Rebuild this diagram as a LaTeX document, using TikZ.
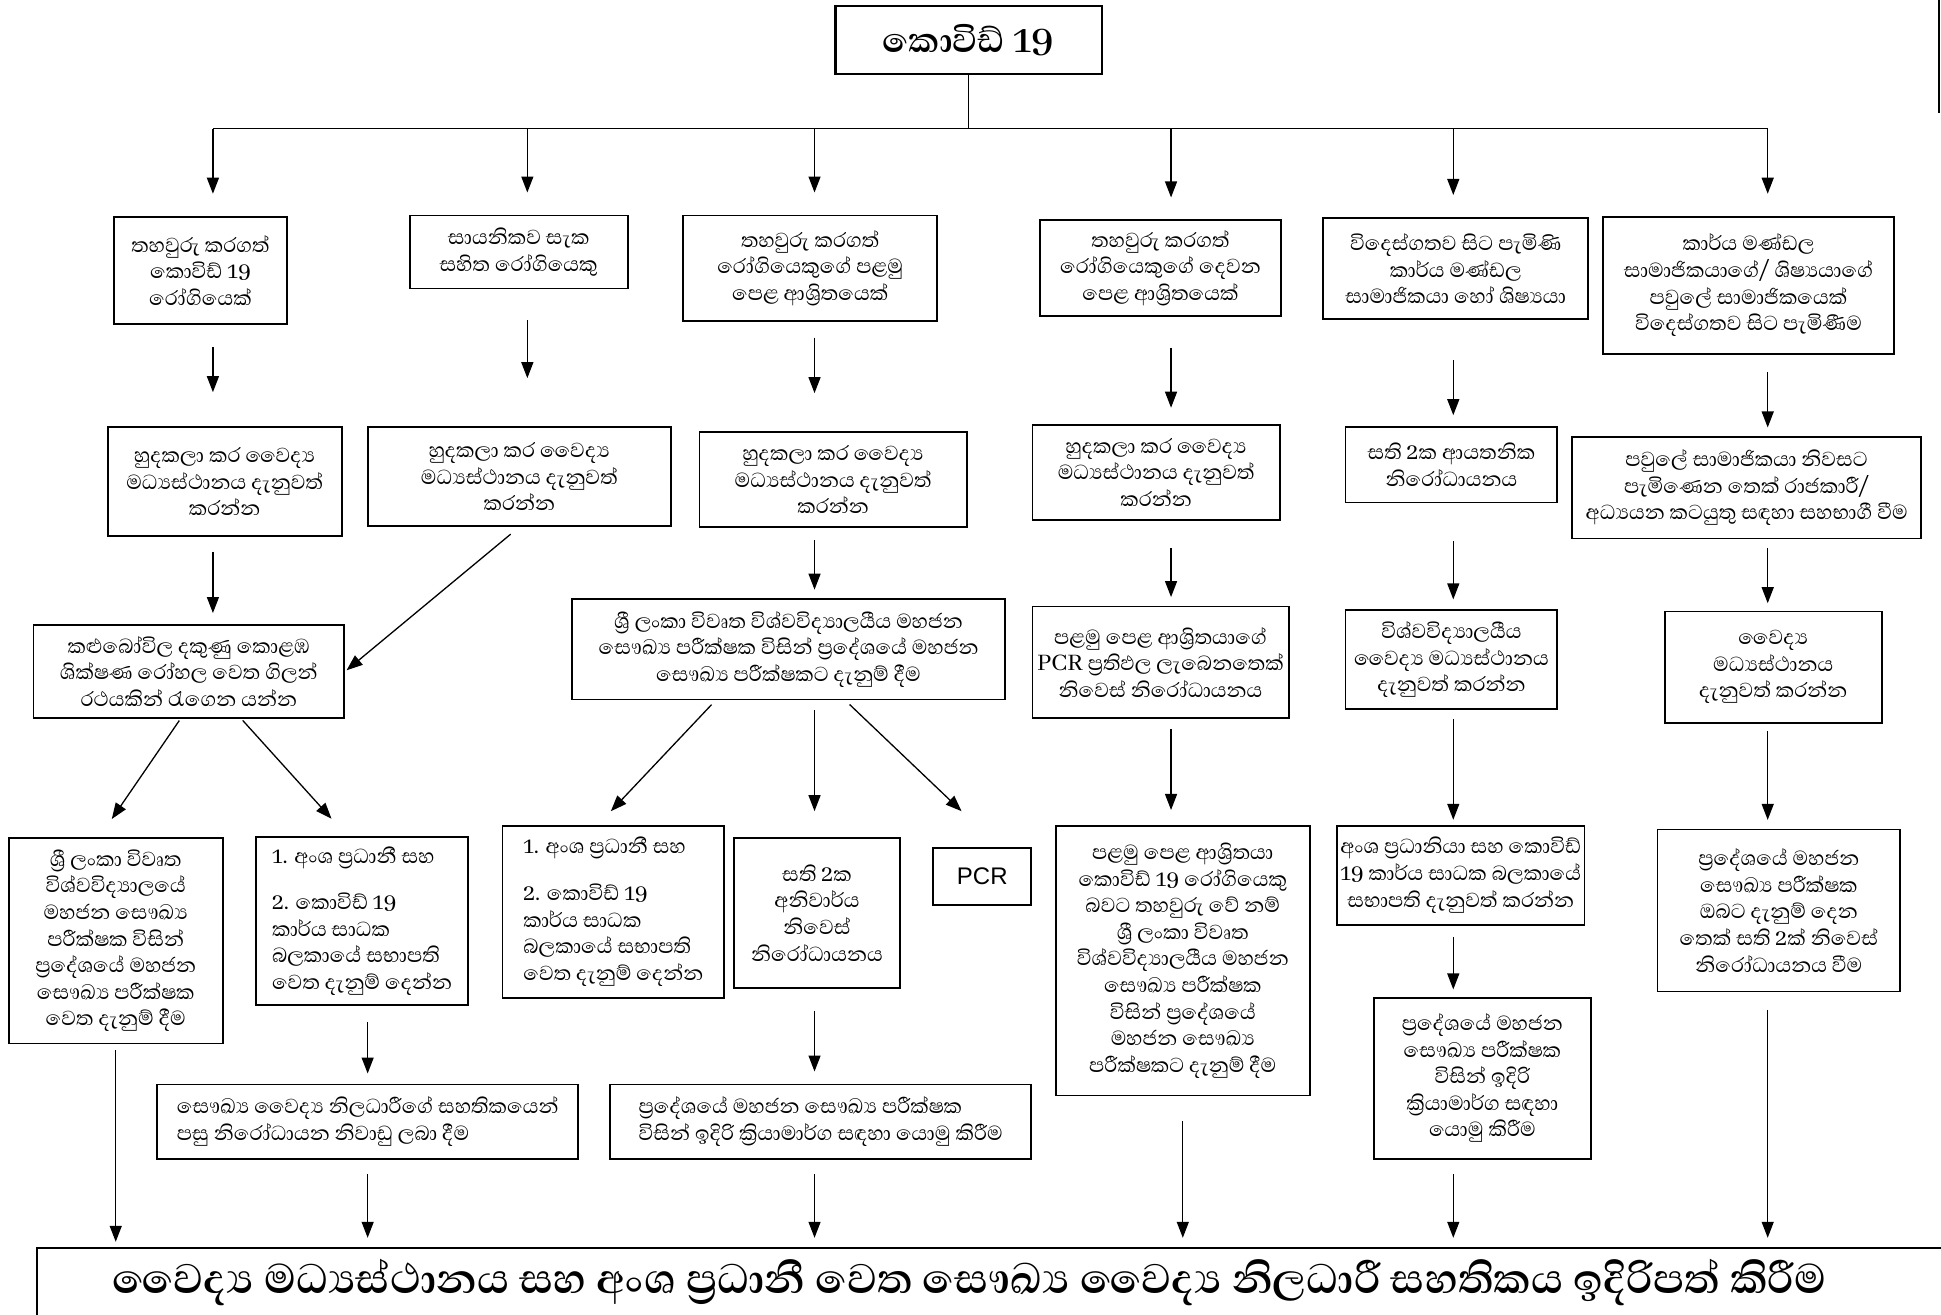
\documentclass[tikz,border=0pt]{standalone}
\usepackage{fontspec}
\newfontfamily\sinhala[Script=Sinhala]{Abhaya Libre}
\newfontfamily\pcrfont{Liberation Sans}
\usetikzlibrary{arrows.meta}

\begin{document}
\begin{tikzpicture}[x=0.619pt, y=-0.619pt, >={Triangle[length=8pt,width=6pt]},
  box/.style={draw, line width=0.9pt, align=center, inner sep=1pt,
    font=\sinhala\fontsize{13}{13.3}\selectfont},
  dims/.style 2 args={minimum width=#1*0.619pt, minimum height=#2*0.619pt},
  arr/.style={->, line width=0.65pt},
  gap/.style 2 args={shorten <=#1pt, shorten >=#2pt}]
  \useasboundingbox (0,0) rectangle (1568,1062);

  \node[box, dims={215}{55}, line width=1.1pt, font=\sinhala\bfseries\fontsize{22}{26}\selectfont] (T) at (782.5,32.5) {කොවිඩ් 19};

  \node[box, dims={140}{87}] (A1) at (162,218.5) {තහවුරු කරගත්\\කොවිඩ් 19\\රෝගියෙක්};
  \node[box, dims={176}{59}] (B1) at (419,203.5) {සායනිකව සැක\\සහිත රෝගියෙකු};
  \node[box, dims={205}{85}] (C1) at (654.5,216.5) {තහවුරු කරගත්\\රෝගියෙකුගේ පළමු\\පෙළ ආශ්‍රිතයෙක්};
  \node[box, dims={195}{77}] (D1) at (937.5,216.5) {තහවුරු කරගත්\\රෝගියෙකුගේ දෙවන\\පෙළ ආශ්‍රිතයෙක්};
  \node[box, dims={214}{82}] (E1) at (1176,217) {විදෙස්ගතව සිට පැමිණි\\කාර්ය මණ්ඩල\\සාමාජිකයා හෝ ශිෂ්‍යයා};
  \node[box, dims={235}{111}] (F1) at (1412.5,230.5) {කාර්ය මණ්ඩල\\සාමාජිකයාගේ/ ශිෂ්‍යයාගේ\\පවුලේ සාමාජිකයෙක්\\විදෙස්ගතව සිට පැමිණීම};

  \node[box, dims={189}{88}] (A2) at (181.5,389) {හුදකලා කර වෛද්‍ය\\මධ්‍යස්ථානය දැනුවත්\\කරන්න};
  \node[box, dims={245}{80}] (B2) at (419.5,385) {හුදකලා කර වෛද්‍ය\\මධ්‍යස්ථානය දැනුවත්\\කරන්න};
  \node[box, dims={216}{77}] (C2) at (673,387.5) {හුදකලා කර වෛද්‍ය\\මධ්‍යස්ථානය දැනුවත්\\කරන්න};
  \node[box, dims={200}{77}] (D2) at (934,381.5) {හුදකලා කර වෛද්‍ය\\මධ්‍යස්ථානය දැනුවත්\\කරන්න};
  \node[box, dims={171}{61}] (E2) at (1172.5,375.5) {සති 2ක ආයතනික\\නිරෝධායනය};
  \node[box, dims={282}{82}] (F2) at (1411,394) {පවුලේ සාමාජිකයා නිවසට\\පැමිණෙන තෙක් රාජකාරී/\\අධ්‍යයන කටයුතු සඳහා සහභාගී වීම};

  \node[box, dims={251}{75}] (A3) at (152.5,542.5) {කළුබෝවිල දකුණු කොළඹ\\ශික්ෂණ රෝහල වෙත ගිලන්\\රථයකින් රැගෙන යන්න};
  \node[box, dims={350}{81}] (C3) at (637,524.5) {ශ්‍රී ලංකා විවෘත විශ්වවිද්‍යාලයීය මහජන\\සෞඛ්‍ය පරීක්ෂක විසින් ප්‍රදේශයේ මහජන\\සෞඛ්‍ය පරීක්ෂකට දැනුම් දීම};
  \node[box, dims={207}{90}] (D3) at (937.5,535) {පළමු පෙළ ආශ්‍රිතයාගේ\\PCR ප්‍රතිඵල ලැබෙනතෙක්\\නිවෙස් නිරෝධායනය};
  \node[box, dims={171}{80}] (E3) at (1172.5,533) {විශ්වවිද්‍යාලයීය\\වෛද්‍ය මධ්‍යස්ථානය\\දැනුවත් කරන්න};
  \node[box, dims={175}{90}] (F3) at (1432.5,539) {වෛද්‍ය\\මධ්‍යස්ථානය\\දැනුවත් කරන්න};

  \node[box, dims={173}{166}] (A4a) at (93.5,760) {ශ්‍රී ලංකා විවෘත\\විශ්වවිද්‍යාලයේ\\මහජන සෞඛ්‍ය\\පරීක්ෂක විසින්\\ප්‍රදේශයේ මහජන\\සෞඛ්‍ය පරීක්ෂක\\වෙත දැනුම් දීම};
  \node[box, dims={171}{136}, align=left] (A4b) at (292.5,744) {1. අංශ ප්‍රධානී සහ\\[10pt]2. කොවිඩ් 19\\කාර්ය සාධක\\බලකායේ සභාපති\\වෙත දැනුම් දෙන්න};
  \node[box, dims={179}{139}, align=left] (C4a) at (495.5,736.5) {1. අංශ ප්‍රධානී සහ\\[10pt]2. කොවිඩ් 19\\කාර්ය සාධක\\බලකායේ සභාපති\\වෙත දැනුම් දෙන්න};
  \node[box, dims={134}{121}] (C4b) at (660,737.5) {සති 2ක\\අනිවාර්ය\\නිවෙස්\\නිරෝධායනය};
  \node[box, dims={79}{46}, font=\pcrfont\fontsize{12}{14}\selectfont] (C4c) at (793.5,708) {PCR};
  \node[box, dims={205}{218}] (D4) at (955.5,776) {පළමු පෙළ ආශ්‍රිතයා\\කොවිඩ් 19 රෝගියෙකු\\බවට තහවුරු වේ නම්\\ශ්‍රී ලංකා විවෘත\\විශ්වවිද්‍යාලයීය මහජන\\සෞඛ්‍ය පරීක්ෂක\\විසින් ප්‍රදේශයේ\\මහජන සෞඛ්‍ය\\පරීක්ෂකට දැනුම් දීම};
  \node[box, dims={200}{80}] (E4) at (1180,707) {අංශ ප්‍රධානියා සහ කොවිඩ්\\19 කාර්ය සාධක බලකායේ\\සභාපති දැනුවත් කරන්න};
  \node[box, dims={196}{131}] (F4) at (1437,735.5) {ප්‍රදේශයේ මහජන\\සෞඛ්‍ය පරීක්ෂක\\ඔබට දැනුම් දෙන\\තෙක් සති 2ක් නිවෙස්\\නිරෝධායනය වීම};

  \node[box, dims={340}{60}, align=left] (A5) at (297,906) {සෞඛ්‍ය වෛද්‍ය නිලධාරීගේ සහතිකයෙන්\\පසු නිරෝධායන නිවාඩු ලබා දීම};
  \node[box, dims={340}{60}, align=left] (C5) at (663,906) {ප්‍රදේශයේ මහජන සෞඛ්‍ය පරීක්ෂක\\විසින් ඉදිරි ක්‍රියාමාර්ග සඳහා යොමු කිරීම};
  \node[box, dims={175}{130}] (E5) at (1197.5,871) {ප්‍රදේශයේ මහජන\\සෞඛ්‍ය පරීක්ෂක\\විසින් ඉදිරි\\ක්‍රියාමාර්ග සඳහා\\යොමු කිරීම};

  \coordinate (botL) at (30,1008);
  \draw[line width=1.1pt] (30,1090) -- (botL) -- (1600,1008);
  \node[font=\sinhala\bfseries\fontsize{26.5}{30}\selectfont] (Bot) at (783,1036) {වෛද්‍ය මධ්‍යස්ථානය සහ අංශ ප්‍රධානී වෙත සෞඛ්‍ය වෛද්‍ය නිලධාරී සහතිකය ඉදිරිපත් කිරීම};

  \draw[line width=1pt] (1566,0) -- (1566,91);

  \coordinate (cA) at (172,104);
  \coordinate (cB) at (426,104);
  \coordinate (cC) at (658,104);
  \coordinate (cD) at (946,104);
  \coordinate (cE) at (1174,104);
  \coordinate (cF) at (1428,104);
  \draw[line width=0.65pt] (T.south) -- (T.south |- cA);
  \draw[line width=0.65pt] (cA) -- (cF);
  \foreach \c/\n in {cA/A1, cB/B1, cC/C1, cD/D1, cE/E1, cF/F1}
    \draw[arr, shorten >=11pt] (\c) -- (\c |- \n.north);

  \draw[arr, gap={11}{17}] (A1.south -| cA) -- (A2.north -| cA);
  \draw[arr, gap={15.5}{24}] (B1.south -| cB) -- (B2.north -| cB);
  \draw[arr, gap={8}{19}] (C1.south -| cC) -- (C2.north -| cC);
  \draw[arr, gap={15.5}{8}] (D1.south -| cD) -- (D2.north -| cD);
  \draw[arr, gap={20}{5.5}] (E1.south -| cE) -- (E2.north -| cE);
  \draw[arr, gap={8.7}{4.3}] (F1.south -| cF) -- (F2.north -| cF);

  \draw[arr, gap={7.4}{5.6}] (A2.south -| cA) -- (A3.north -| cA);
  \draw[arr, gap={5.6}{1}] (B2.south) -- (A3.east);
  \draw[arr, gap={6}{4.3}] (C2.south -| cC) -- (C3.north -| cC);
  \draw[arr, gap={13.6}{4.3}] (D2.south -| cD) -- (D3.north -| cD);
  \draw[arr, gap={19}{5}] (E2.south -| cE) -- (E3.north -| cE);
  \draw[arr, gap={4.3}{3.7}] (F2.south -| cF) -- (F3.north -| cF);

  \draw[arr, gap={1}{11}] (A3.-100) -- (A4a.99);
  \draw[arr, gap={1}{11.6}] (A3.-42) -- (A4b.100);
  \draw[arr, gap={3}{9.3}] (C3.-145) -- (C4a.100);
  \draw[arr, gap={5}{13}] (C3.south -| cC) -- (C4b.north -| cC);
  \draw[arr, gap={3}{26}] (C3.-42) -- (C4c.60);
  \draw[arr, gap={5}{7.4}] (D3.south -| cD) -- (D4.north -| cD);
  \draw[arr, gap={4.3}{2.5}] (E3.south -| cE) -- (E4.north -| cE);
  \draw[arr, gap={3.7}{4.3}] (F3.south -| cF) -- (F4.north -| cF);

  \draw[arr, gap={3}{3}] (A4a.south) -- (A4a.south |- botL);
  \draw[arr, gap={8}{5}] (A4b.south -| A5) -- (A5.north);
  \draw[arr, gap={11}{6}] (C4b.south -| cC) -- (C5.north -| cC);
  \draw[arr, gap={12.4}{5}] (D4.south) -- (D4.south |- botL);
  \draw[arr, gap={5.6}{3.7}] (E4.south -| cE) -- (E5.north -| cE);
  \draw[arr, gap={7.4}{5}] (A5.south) -- (A5.south |- botL);
  \draw[arr, gap={7.4}{5}] (C5.south -| cC) -- (botL -| cC);
  \draw[arr, gap={7.4}{5}] (E5.south -| cE) -- (botL -| cE);
  \draw[arr, gap={8.7}{5}] (F4.south -| cF) -- (botL -| cF);
\end{tikzpicture}
\end{document}
